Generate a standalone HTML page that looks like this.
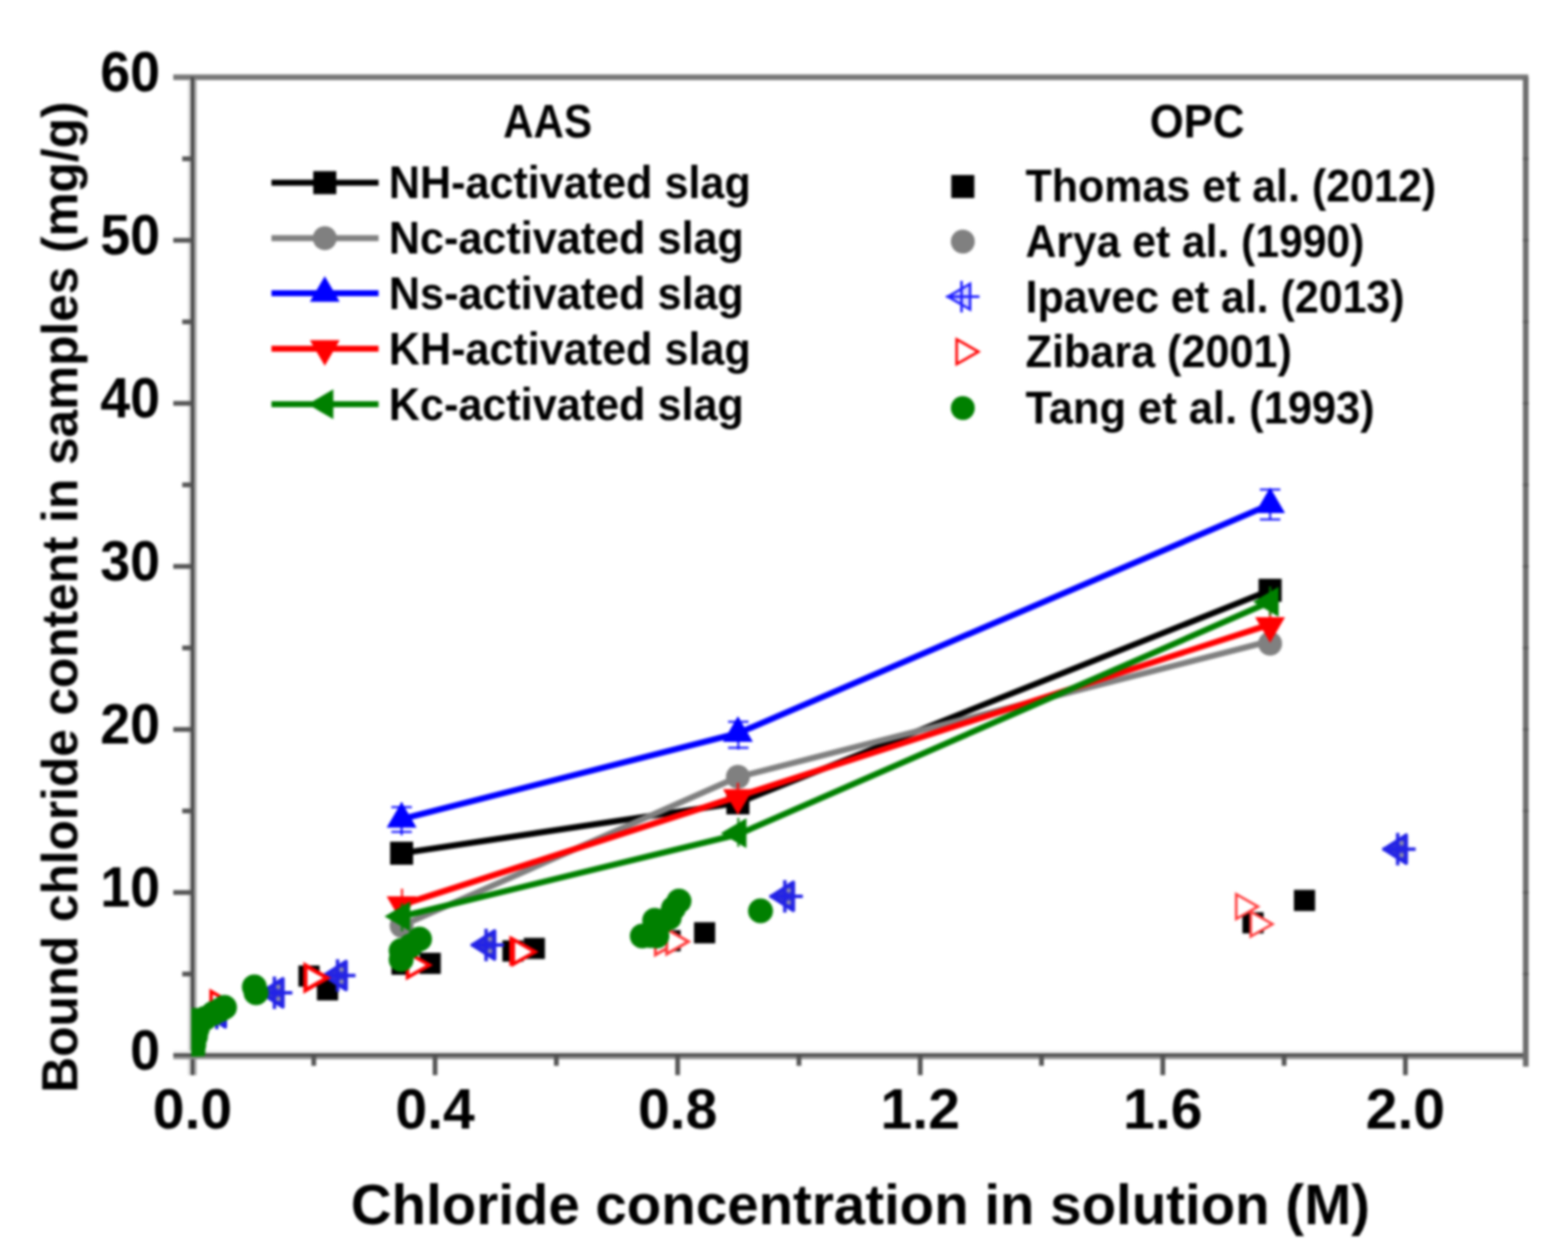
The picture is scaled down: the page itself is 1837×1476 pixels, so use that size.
<!DOCTYPE html>
<html lang="en"><head><meta charset="utf-8"><title>Bound chloride content vs chloride concentration</title>
<style>html,body{margin:0;padding:0;background:#fff}body{width:1837px;height:1476px;overflow:hidden}svg{display:block}text{font-family:"Liberation Sans",Arial,Helvetica,sans-serif;font-weight:bold;fill:#000}</style>
</head><body>
<svg width="1837" height="1476" viewBox="0 0 1837 1476">
<defs><filter id="b" x="-2%" y="-2%" width="104%" height="104%" color-interpolation-filters="sRGB"><feGaussianBlur stdDeviation="1.5"/></filter></defs>
<rect width="1837" height="1476" fill="#fff"/>
<g filter="url(#b)">
<g stroke="#555555" stroke-width="5.6" fill="none" stroke-linecap="butt">
<line x1="203" y1="90.5" x2="1790.5" y2="90.5" stroke="#777" stroke-width="6.5"/>
<rect x="220.4" y="93.5" width="3.4" height="1166.0" fill="#d4d4d4" stroke="none"/>
<rect x="227.0" y="93.5" width="3.4" height="1166.0" fill="#a6a6a6" stroke="none"/>
<rect x="223.6" y="90.5" width="3.6" height="1169.0" fill="#3e3e3e" stroke="none"/>
<rect x="203" y="1230.9" width="1587.0" height="3.2" fill="#e6e6e6" stroke="none"/>
<rect x="203" y="1237.4" width="1587.0" height="3.4" fill="#8e8e8e" stroke="none"/>
<rect x="203" y="1234.0" width="1587.0" height="3.5" fill="#444444" stroke="none"/>
<line x1="1787.5" y1="90.5" x2="1787.5" y2="1249.5" stroke="#6c6c6c" stroke-width="6.6"/>
<line x1="1784.2" y1="1141.0" x2="1790.8" y2="1141.0" stroke="#5a5a5a" stroke-width="3"/>
<line x1="1784.2" y1="1045.5" x2="1790.8" y2="1045.5" stroke="#5a5a5a" stroke-width="3"/>
<line x1="1784.2" y1="950.0" x2="1790.8" y2="950.0" stroke="#5a5a5a" stroke-width="3"/>
<line x1="1784.2" y1="854.5" x2="1790.8" y2="854.5" stroke="#5a5a5a" stroke-width="3"/>
<line x1="1784.2" y1="759.0" x2="1790.8" y2="759.0" stroke="#5a5a5a" stroke-width="3"/>
<line x1="1784.2" y1="663.5" x2="1790.8" y2="663.5" stroke="#5a5a5a" stroke-width="3"/>
<line x1="1784.2" y1="568.0" x2="1790.8" y2="568.0" stroke="#5a5a5a" stroke-width="3"/>
<line x1="1784.2" y1="472.5" x2="1790.8" y2="472.5" stroke="#5a5a5a" stroke-width="3"/>
<line x1="1784.2" y1="377.0" x2="1790.8" y2="377.0" stroke="#5a5a5a" stroke-width="3"/>
<line x1="1784.2" y1="281.5" x2="1790.8" y2="281.5" stroke="#5a5a5a" stroke-width="3"/>
<line x1="1784.2" y1="186.0" x2="1790.8" y2="186.0" stroke="#5a5a5a" stroke-width="3"/>
<line x1="213.5" y1="1141.0" x2="225.5" y2="1141.0"/>
<line x1="203" y1="1045.5" x2="225.5" y2="1045.5"/>
<line x1="213.5" y1="950.0" x2="225.5" y2="950.0"/>
<line x1="203" y1="854.5" x2="225.5" y2="854.5"/>
<line x1="213.5" y1="759.0" x2="225.5" y2="759.0"/>
<line x1="203" y1="663.5" x2="225.5" y2="663.5"/>
<line x1="213.5" y1="568.0" x2="225.5" y2="568.0"/>
<line x1="203" y1="472.5" x2="225.5" y2="472.5"/>
<line x1="213.5" y1="377.0" x2="225.5" y2="377.0"/>
<line x1="203" y1="281.5" x2="225.5" y2="281.5"/>
<line x1="213.5" y1="186.0" x2="225.5" y2="186.0"/>
<line x1="367.6" y1="1236.5" x2="367.6" y2="1248.5"/>
<line x1="509.7" y1="1236.5" x2="509.7" y2="1259.5"/>
<line x1="651.8" y1="1236.5" x2="651.8" y2="1248.5"/>
<line x1="793.9" y1="1236.5" x2="793.9" y2="1259.5"/>
<line x1="936.0" y1="1236.5" x2="936.0" y2="1248.5"/>
<line x1="1078.1" y1="1236.5" x2="1078.1" y2="1259.5"/>
<line x1="1220.2" y1="1236.5" x2="1220.2" y2="1248.5"/>
<line x1="1362.3" y1="1236.5" x2="1362.3" y2="1259.5"/>
<line x1="1504.4" y1="1236.5" x2="1504.4" y2="1248.5"/>
<line x1="1646.5" y1="1236.5" x2="1646.5" y2="1259.5"/>
</g>
<g font-size="67">
<text x="152.5" y="1253.0" textLength="35" lengthAdjust="spacingAndGlyphs">0</text>
<text x="117.5" y="1062.0" textLength="70" lengthAdjust="spacingAndGlyphs">10</text>
<text x="117.5" y="871.0" textLength="70" lengthAdjust="spacingAndGlyphs">20</text>
<text x="117.5" y="680.0" textLength="70" lengthAdjust="spacingAndGlyphs">30</text>
<text x="117.5" y="489.0" textLength="70" lengthAdjust="spacingAndGlyphs">40</text>
<text x="117.5" y="298.0" textLength="70" lengthAdjust="spacingAndGlyphs">50</text>
<text x="117.5" y="107.0" textLength="70" lengthAdjust="spacingAndGlyphs">60</text>
<text x="179.0" y="1322.0" textLength="93" lengthAdjust="spacingAndGlyphs">0.0</text>
<text x="463.2" y="1322.0" textLength="93" lengthAdjust="spacingAndGlyphs">0.4</text>
<text x="747.4" y="1322.0" textLength="93" lengthAdjust="spacingAndGlyphs">0.8</text>
<text x="1031.6" y="1322.0" textLength="93" lengthAdjust="spacingAndGlyphs">1.2</text>
<text x="1315.8" y="1322.0" textLength="93" lengthAdjust="spacingAndGlyphs">1.6</text>
<text x="1600.0" y="1322.0" textLength="93" lengthAdjust="spacingAndGlyphs">2.0</text>
</g>
<text x="411" y="1434" font-size="66" textLength="1194" lengthAdjust="spacingAndGlyphs">Chloride concentration in solution (M)</text>
<text transform="translate(90.5,1280) rotate(-90)" font-size="60" textLength="1161" lengthAdjust="spacingAndGlyphs">Bound chloride content in samples (mg/g)</text>
<clipPath id="pc"><rect x="224.0" y="90.5" width="1565.0" height="1147.0"/></clipPath>
<g clip-path="url(#pc)">
<polyline points="470.5,999.5 864.5,940.5 1488.0,691.5" fill="none" stroke="#000" stroke-width="7.1" stroke-linejoin="round"/>
<rect x="457.0" y="986.0" width="27.0" height="27.0" fill="#000"/>
<rect x="851.0" y="927.0" width="27.0" height="27.0" fill="#000"/>
<rect x="1474.5" y="678.0" width="27.0" height="27.0" fill="#000"/>
<polyline points="470.5,1084.5 864.5,910.3 1488.0,751.0" fill="none" stroke="#808080" stroke-width="7.1" stroke-linejoin="round"/>
<circle cx="470.5" cy="1084.5" r="14.0" fill="#808080"/>
<circle cx="864.5" cy="910.0" r="14.0" fill="#808080"/>
<circle cx="1488.0" cy="754.0" r="14.0" fill="#808080"/>
<polyline points="470.5,959.5 864.5,859.0 1488.0,591.0" fill="none" stroke="#0000ff" stroke-width="7.1" stroke-linejoin="round"/>
<polygon points="470.5,939.5 488.0,969.5 453.0,969.5" fill="#0000ff"/>
<polygon points="864.5,839.0 882.0,869.0 847.0,869.0" fill="#0000ff"/>
<polygon points="1488.0,571.0 1505.5,601.0 1470.5,601.0" fill="#0000ff"/>
<g stroke="#0000ff" stroke-width="2.6" fill="none" stroke-opacity="0.85"><line x1="470.5" y1="940.0" x2="470.5" y2="978.5"/><line x1="458.5" y1="945.5" x2="482.5" y2="945.5"/><line x1="458.5" y1="974.5" x2="482.5" y2="974.5"/></g>
<g stroke="#0000ff" stroke-width="2.6" fill="none" stroke-opacity="0.85"><line x1="865.0" y1="841.0" x2="865.0" y2="878.0"/><line x1="853.0" y1="845.5" x2="877.0" y2="845.5"/><line x1="853.0" y1="876.0" x2="877.0" y2="876.0"/></g>
<g stroke="#0000ff" stroke-width="2.6" fill="none" stroke-opacity="0.85"><line x1="1488.0" y1="573.5" x2="1488.0" y2="608.5"/><line x1="1476.0" y1="573.5" x2="1500.0" y2="573.5"/><line x1="1476.0" y1="608.5" x2="1500.0" y2="608.5"/></g>
<polyline points="470.5,1060.0 864.5,933.0 1488.0,731.5" fill="none" stroke="#ff0000" stroke-width="7.1" stroke-linejoin="round"/>
<polygon points="470.5,1080.0 488.0,1050.0 453.0,1050.0" fill="#ff0000"/>
<polygon points="864.5,954.5 882.0,924.5 847.0,924.5" fill="#ff0000"/>
<polygon points="1488.0,753.0 1505.5,723.0 1470.5,723.0" fill="#ff0000"/>
<g stroke="#ff0000" stroke-width="2.6" fill="none" stroke-opacity="0.85"><line x1="471.0" y1="1041.0" x2="471.0" y2="1079.0"/></g>
<g stroke="#ff0000" stroke-width="2.6" fill="none" stroke-opacity="0.85"><line x1="864.5" y1="917.0" x2="864.5" y2="952.0"/></g>
<g stroke="#ff0000" stroke-width="2.6" fill="none" stroke-opacity="0.85"><line x1="1488.0" y1="716.0" x2="1488.0" y2="750.0"/></g>
<polyline points="470.5,1073.5 864.5,977.5 1488.0,705.0" fill="none" stroke="#008000" stroke-width="7.1" stroke-linejoin="round"/>
<polygon points="450.5,1073.5 480.5,1056.0 480.5,1091.0" fill="#008000"/>
<polygon points="844.5,976.0 874.5,958.5 874.5,993.5" fill="#008000"/>
<polygon points="1468.0,705.0 1498.0,687.5 1498.0,722.5" fill="#008000"/>
<g stroke="#008000" stroke-width="2.6" fill="none" stroke-opacity="0.85"><line x1="471.0" y1="1058.0" x2="471.0" y2="1091.0"/></g>
<g stroke="#008000" stroke-width="2.6" fill="none" stroke-opacity="0.85"><line x1="865.0" y1="958.0" x2="865.0" y2="992.0"/></g>
<g stroke="#008000" stroke-width="2.6" fill="none" stroke-opacity="0.85"><line x1="1488.0" y1="687.0" x2="1488.0" y2="721.0"/></g>
<rect x="349.6" y="1131.0" width="24.8" height="24.8" fill="#000"/>
<rect x="371.3" y="1147.1" width="24.8" height="24.8" fill="#000"/>
<rect x="458.6" y="1117.1" width="24.8" height="24.8" fill="#000"/>
<rect x="491.6" y="1116.1" width="24.8" height="24.8" fill="#000"/>
<rect x="588.6" y="1101.6" width="24.8" height="24.8" fill="#000"/>
<rect x="613.6" y="1098.6" width="24.8" height="24.8" fill="#000"/>
<rect x="772.6" y="1089.6" width="24.8" height="24.8" fill="#000"/>
<rect x="813.1" y="1080.3" width="24.8" height="24.8" fill="#000"/>
<rect x="1455.6" y="1068.6" width="24.8" height="24.8" fill="#000"/>
<rect x="1515.9" y="1042.4" width="24.8" height="24.8" fill="#000"/>
<polygon points="238.0,1186.5 264.0,1170.0 264.0,1203.0" fill="#3030d8" stroke="#2222e6" stroke-width="4.0" stroke-linejoin="round"/><line x1="236.0" y1="1186.5" x2="275.0" y2="1186.5" stroke="#2222e6" stroke-width="4.0"/><line x1="254.0" y1="1167.5" x2="254.0" y2="1205.5" stroke="#2222e6" stroke-width="4.0"/><circle cx="258.5" cy="1179.5" r="2.6" fill="#8c8cae"/><circle cx="258.5" cy="1193.5" r="2.6" fill="#8c8cae"/>
<polygon points="305.5,1163.0 331.5,1146.5 331.5,1179.5" fill="#3030d8" stroke="#2222e6" stroke-width="4.0" stroke-linejoin="round"/><line x1="303.5" y1="1163.0" x2="342.5" y2="1163.0" stroke="#2222e6" stroke-width="4.0"/><line x1="321.5" y1="1144.0" x2="321.5" y2="1182.0" stroke="#2222e6" stroke-width="4.0"/><circle cx="326.0" cy="1156.0" r="2.6" fill="#8c8cae"/><circle cx="326.0" cy="1170.0" r="2.6" fill="#8c8cae"/>
<polygon points="379.5,1142.8 405.5,1126.3 405.5,1159.3" fill="#3030d8" stroke="#2222e6" stroke-width="4.0" stroke-linejoin="round"/><line x1="377.5" y1="1142.8" x2="416.5" y2="1142.8" stroke="#2222e6" stroke-width="4.0"/><line x1="395.5" y1="1123.8" x2="395.5" y2="1161.8" stroke="#2222e6" stroke-width="4.0"/><circle cx="400.0" cy="1135.8" r="2.6" fill="#8c8cae"/><circle cx="400.0" cy="1149.8" r="2.6" fill="#8c8cae"/>
<polygon points="553.5,1107.0 579.5,1090.5 579.5,1123.5" fill="#3030d8" stroke="#2222e6" stroke-width="4.0" stroke-linejoin="round"/><line x1="551.5" y1="1107.0" x2="590.5" y2="1107.0" stroke="#2222e6" stroke-width="4.0"/><line x1="569.5" y1="1088.0" x2="569.5" y2="1126.0" stroke="#2222e6" stroke-width="4.0"/><circle cx="574.0" cy="1100.0" r="2.6" fill="#8c8cae"/><circle cx="574.0" cy="1114.0" r="2.6" fill="#8c8cae"/>
<polygon points="903.5,1050.0 929.5,1033.5 929.5,1066.5" fill="#3030d8" stroke="#2222e6" stroke-width="4.0" stroke-linejoin="round"/><line x1="901.5" y1="1050.0" x2="940.5" y2="1050.0" stroke="#2222e6" stroke-width="4.0"/><line x1="919.5" y1="1031.0" x2="919.5" y2="1069.0" stroke="#2222e6" stroke-width="4.0"/><circle cx="924.0" cy="1043.0" r="2.6" fill="#8c8cae"/><circle cx="924.0" cy="1057.0" r="2.6" fill="#8c8cae"/>
<polygon points="1621.5,994.7 1647.5,978.2 1647.5,1011.2" fill="#3030d8" stroke="#2222e6" stroke-width="4.0" stroke-linejoin="round"/><line x1="1619.5" y1="994.7" x2="1658.5" y2="994.7" stroke="#2222e6" stroke-width="4.0"/><line x1="1637.5" y1="975.7" x2="1637.5" y2="1013.7" stroke="#2222e6" stroke-width="4.0"/><circle cx="1642.0" cy="987.7" r="2.6" fill="#8c8cae"/><circle cx="1642.0" cy="1001.7" r="2.6" fill="#8c8cae"/>
<polygon points="272.8,1176.0 247.3,1161.5 247.3,1190.5" fill="#fff" stroke="#ff0000" stroke-width="4.0" stroke-linejoin="miter"/>
<polygon points="383.3,1145.5 357.8,1131.0 357.8,1160.0" fill="#fff" stroke="#ff0000" stroke-width="4.8" stroke-linejoin="miter"/>
<polygon points="503.0,1130.5 477.5,1116.0 477.5,1145.0" fill="#fff" stroke="#ff0000" stroke-width="4.2" stroke-linejoin="miter"/>
<polygon points="624.3,1114.0 598.8,1099.5 598.8,1128.5" fill="#fff" stroke="#ff0000" stroke-width="4.2" stroke-linejoin="miter"/>
<polygon points="626.8,1115.0 601.3,1100.5 601.3,1129.5" fill="#fff" stroke="#ff0000" stroke-width="4.2" stroke-linejoin="miter"/>
<polygon points="793.3,1104.0 767.8,1089.5 767.8,1118.5" fill="#fff" stroke="#ff3a3a" stroke-width="3.4" stroke-linejoin="miter"/>
<polygon points="806.6,1103.0 781.1,1088.5 781.1,1117.5" fill="#fff" stroke="#ff3a3a" stroke-width="3.4" stroke-linejoin="miter"/>
<polygon points="1473.8,1062.0 1448.3,1047.5 1448.3,1076.5" fill="#fff" stroke="#ff3a3a" stroke-width="3.0" stroke-linejoin="miter"/>
<polygon points="1490.8,1082.5 1465.3,1068.0 1465.3,1097.0" fill="#fff" stroke="#ff3a3a" stroke-width="3.0" stroke-linejoin="miter"/>
<circle cx="226.0" cy="1232.0" r="14.6" fill="#008000"/>
<circle cx="227.0" cy="1224.0" r="14.6" fill="#008000"/>
<circle cx="229.0" cy="1214.0" r="14.6" fill="#008000"/>
<circle cx="231.0" cy="1205.0" r="14.6" fill="#008000"/>
<circle cx="228.0" cy="1195.0" r="14.6" fill="#008000"/>
<circle cx="240.0" cy="1193.0" r="14.6" fill="#008000"/>
<circle cx="250.0" cy="1187.0" r="14.6" fill="#008000"/>
<circle cx="258.0" cy="1183.0" r="14.6" fill="#008000"/>
<circle cx="263.0" cy="1180.0" r="14.6" fill="#008000"/>
<circle cx="298.0" cy="1156.0" r="14.6" fill="#008000"/>
<circle cx="300.0" cy="1163.0" r="14.6" fill="#008000"/>
<circle cx="470.0" cy="1124.0" r="14.6" fill="#008000"/>
<circle cx="470.0" cy="1113.5" r="14.6" fill="#008000"/>
<circle cx="481.0" cy="1108.0" r="14.6" fill="#008000"/>
<circle cx="491.5" cy="1100.0" r="14.6" fill="#008000"/>
<circle cx="752.5" cy="1096.5" r="14.6" fill="#008000"/>
<circle cx="762.0" cy="1096.0" r="14.6" fill="#008000"/>
<circle cx="769.5" cy="1096.5" r="14.6" fill="#008000"/>
<circle cx="767.0" cy="1078.0" r="14.6" fill="#008000"/>
<circle cx="775.0" cy="1080.0" r="14.6" fill="#008000"/>
<circle cx="784.0" cy="1075.0" r="14.6" fill="#008000"/>
<circle cx="789.0" cy="1064.0" r="14.6" fill="#008000"/>
<circle cx="795.5" cy="1055.5" r="14.6" fill="#008000"/>
<circle cx="891.0" cy="1067.0" r="14.6" fill="#008000"/>
</g>
<g font-size="53">
<text x="589.5" y="160.8" font-size="55" textLength="104" lengthAdjust="spacingAndGlyphs">AAS</text>
<line x1="318" y1="214.0" x2="443.5" y2="214.0" stroke="#000" stroke-width="7.1"/>
<rect x="367.0" y="200.5" width="27.0" height="27.0" fill="#000"/>
<text x="455.5" y="232.0" textLength="424" lengthAdjust="spacingAndGlyphs">NH-activated slag</text>
<line x1="318" y1="279.0" x2="443.5" y2="279.0" stroke="#808080" stroke-width="7.1"/>
<circle cx="380.5" cy="279.0" r="14.0" fill="#808080"/>
<text x="455.5" y="297.0" textLength="416" lengthAdjust="spacingAndGlyphs">Nc-activated slag</text>
<line x1="318" y1="343.5" x2="443.5" y2="343.5" stroke="#0000ff" stroke-width="7.1"/>
<polygon points="380.5,323.5 398.0,353.5 363.0,353.5" fill="#0000ff"/>
<text x="455.5" y="361.5" textLength="416" lengthAdjust="spacingAndGlyphs">Ns-activated slag</text>
<line x1="318" y1="408.5" x2="443.5" y2="408.5" stroke="#ff0000" stroke-width="7.1"/>
<polygon points="380.5,428.5 398.0,398.5 363.0,398.5" fill="#ff0000"/>
<text x="455.5" y="426.5" textLength="424" lengthAdjust="spacingAndGlyphs">KH-activated slag</text>
<line x1="318" y1="473.5" x2="443.5" y2="473.5" stroke="#008000" stroke-width="7.1"/>
<polygon points="360.5,473.5 390.5,456.0 390.5,491.0" fill="#008000"/>
<text x="455.5" y="491.5" textLength="416" lengthAdjust="spacingAndGlyphs">Kc-activated slag</text>
<text x="1347" y="161.3" font-size="55" textLength="111" lengthAdjust="spacingAndGlyphs">OPC</text>
<rect x="1114.5" y="205.0" width="27.0" height="27.0" fill="#000"/>
<text x="1201.5" y="236.0" textLength="481" lengthAdjust="spacingAndGlyphs">Thomas et al. (2012)</text>
<circle cx="1128.0" cy="283.0" r="14.0" fill="#808080"/>
<text x="1201.5" y="300.5" textLength="397" lengthAdjust="spacingAndGlyphs">Arya et al. (1990)</text>
<polygon points="1110.5,347.5 1136.5,332.5 1136.5,362.5" fill="#4040ff" fill-opacity="0.22" stroke="#2020ff" stroke-width="3.0"/><line x1="1108.5" y1="347.5" x2="1147.5" y2="347.5" stroke="#2020ff" stroke-width="3.0"/><line x1="1126.5" y1="329.0" x2="1126.5" y2="366.0" stroke="#2020ff" stroke-width="3.0"/>
<text x="1201.5" y="365.5" textLength="444" lengthAdjust="spacingAndGlyphs">Ipavec et al. (2013)</text>
<polygon points="1146.3,412.0 1120.8,397.5 1120.8,426.5" fill="#fff" stroke="#ff0000" stroke-width="3.0" stroke-linejoin="miter"/>
<text x="1201.5" y="429.5" textLength="312" lengthAdjust="spacingAndGlyphs">Zibara (2001)</text>
<circle cx="1128.0" cy="478.0" r="14.0" fill="#008000"/>
<text x="1201.5" y="495.5" textLength="409" lengthAdjust="spacingAndGlyphs">Tang et al. (1993)</text>
</g>
</g>
</svg></body></html>
